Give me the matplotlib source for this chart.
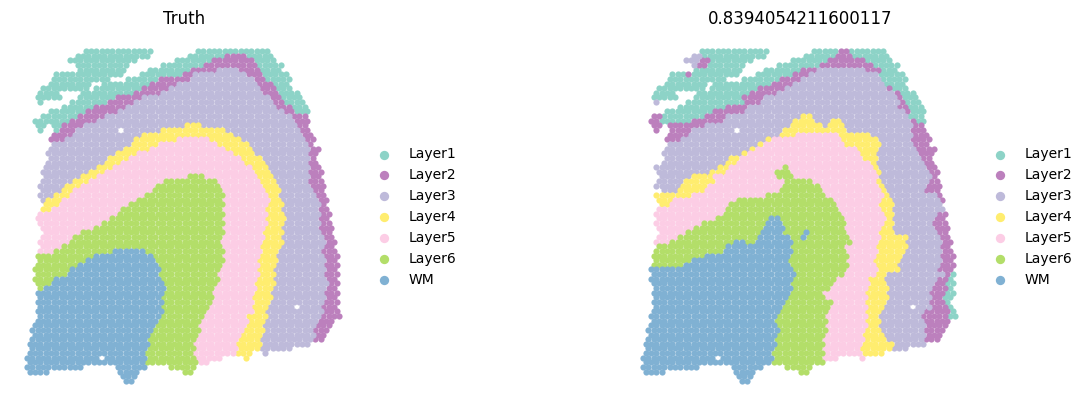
import matplotlib
matplotlib.use("Agg")
import matplotlib.pyplot as plt
import numpy as np

layers = ["Layer1", "Layer2", "Layer3", "Layer4", "Layer5", "Layer6", "WM"]
layer_colors = ["#8dd3c7", "#bc80bd", "#bebada", "#ffed6f", "#fccde5", "#b3de69", "#80b1d3"]

titles = ["Truth", "0.8394054211600117"]

# one string per array row, "layer:first_col-last_col", layer 7 is WM
truth_runs = [
    "1:22-46 1:64-91",
    "1:19-45 1:61-74 2:75-82 1:83-92",
    "1:16-40 1:56-69 2:70-84 1:85-93",
    "1:18-38 1:51-66 2:67-85 1:86-96",
    "1:19-37 1:45-60 2:61-71 3:72-78 2:79-86 1:87-95",
    "1:10-35 1:43-57 2:58-61 3:62-81 2:82-87 1:88-97",
    "1:10-31 1:37-49 2:50-60 3:61-85 2:86-88 1:89-98",
    "1:9-24 1:28-46 2:47-56 3:57-85 2:86-91 1:92-98",
    "1:6-22 1:26-42 2:43-53 3:54-87 2:88-92 1:93-99",
    "1:5-12 1:21-40 2:41-50 3:51-88 2:89-93 1:94-102",
    "1:4-12 1:20-33 2:34-43 3:44-91 2:92-95 1:96-103",
    "1:5-6 1:17-29 2:30-39 3:40-91 2:92-95 1:96-104",
    "1:14-25 2:26-36 3:37-93 2:94-98 1:99-105",
    "1:9-22 2:23-33 3:34-95 2:96-100 1:101-106",
    "1:6-19 2:20-29 3:30-98 2:99-105",
    "1:3-16 2:17-25 3:26-99 2:100-105",
    "1:4-6 1:9-13 2:14-21 3:22-58 4:59-65 3:66-100 2:101-105",
    "1:5 1:10-12 2:13-18 3:19-34 3:36-49 4:50-74 3:75-102 2:103-106",
    "2:9-17 3:18-42 4:43-76 3:77-102 2:103-107",
    "2:9-14 3:15-40 4:41-56 5:57-67 4:68-80 3:81-103 2:104-108",
    "3:9-38 4:39-49 5:50-71 4:72-82 3:83-104 2:105-107",
    "3:9-35 4:36-45 5:46-74 4:75-84 3:85-105 2:106-109",
    "3:8-32 4:33-41 5:42-77 4:78-85 3:86-105 2:106-109",
    "3:8-30 4:31-37 5:38-79 4:80-87 3:88-105 2:106-108",
    "3:7-28 4:29-35 5:36-81 4:82-88 3:89-105 2:106-109",
    "3:6-25 4:26-31 5:32-83 4:84-90 3:91-105 2:106-110",
    "3:6-23 4:24-29 5:30-85 4:86-91 3:92-105 2:106-110",
    "3:6-20 4:21-26 5:27-59 6:60-66 5:67-86 4:87-92 3:93-105 2:106-109",
    "3:5-17 4:18-23 5:24-50 6:51-70 5:71-87 4:88-93 3:94-105 2:106-110",
    "3:4-14 4:15-20 5:21-48 6:49-72 5:73-88 4:89-93 3:94-105 2:106-111",
    "3:5-12 4:13-17 5:18-46 6:47-73 5:74-88 4:89-94 3:95-107 2:108-111",
    "3:4-10 4:11-16 5:17-43 6:44-74 5:75-89 4:90-94 3:95-108 2:109-111",
    "3:6-7 4:8-13 5:14-40 6:41-73 5:74-90 4:91-95 3:96-108 2:109-112",
    "4:7-12 5:13-38 6:39-74 5:75-90 4:91-95 3:96-109 2:110-112",
    "4:6-9 5:10-35 6:36-73 5:74-89 4:90-95 3:96-109 2:110-112",
    "5:5-33 6:34-74 5:75-90 4:91-95 3:96-109 2:110-113",
    "5:4-30 6:31-73 5:74-89 4:90-96 3:97-109 2:110-113",
    "5:4-28 6:29-73 5:74-90 4:91-95 3:96-110 2:111-113",
    "5:5-24 6:25-73 5:74-89 4:90-95 3:96-109 2:110-114",
    "5:6-20 6:21-73 5:74-88 4:89-95 3:96-110 2:111-113",
    "5:5-17 6:18-72 5:73-88 4:89-94 3:95-110 2:111-115",
    "5:4-15 6:16-72 5:73-87 4:88-95 3:96-111 2:112-115",
    "5:5-13 6:14-72 5:73-87 4:88-94 3:95-111 2:112-115",
    "5:5-9 6:10-31 7:32-43 6:44-73 5:74-87 4:88-93 3:94-110 2:111-115",
    "6:4-24 7:25-46 6:47-72 5:73-87 4:88-93 3:94-111 2:112-116",
    "6:4-21 7:22-48 6:49-73 5:74-86 4:87-93 3:94-111 2:112-115",
    "6:4-19 7:20-49 6:50-72 5:73-86 4:87-92 3:93-111 2:112-117",
    "6:3-15 7:16-50 6:51-71 5:72-85 4:86-92 3:93-112 2:113-115",
    "6:4-14 7:15-49 6:50-71 5:72-86 4:87-92 3:93-111 2:112-116",
    "6:3-10 7:11-50 6:51-71 5:72-85 4:86-92 3:93-111 2:112-116",
    "6:3-9 7:10-51 6:52-70 5:71-85 4:86-92 3:93-112 2:113-116",
    "6:4-5 7:7-51 6:52-70 5:71-85 4:86-91 3:92-111 2:112-116",
    "7:3-50 6:51-69 5:70-85 4:86-91 3:92-111 2:112-116",
    "7:4-50 6:51-69 5:70-84 4:85-91 3:92-111 2:112-116",
    "7:3-50 6:51-68 5:69-84 4:85-91 3:92-110 2:111-116",
    "7:4-50 6:51-67 5:68-84 4:85-90 3:91-100 3:102-110 2:111-116",
    "7:4-50 6:51-66 5:67-84 4:85-89 3:90-110 2:111-116",
    "7:4-49 6:50-66 5:67-82 4:83-89 3:90-110 2:111-117",
    "7:3-49 6:50-65 5:66-82 4:83-89 3:90-108 2:109-115",
    "7:3-48 6:49-64 5:65-81 4:82-88 3:89-107 2:108-114",
    "7:2-47 6:48-64 5:65-80 4:81-88 3:89-107 2:108-113",
    "7:2-46 6:47-63 5:64-80 4:81-87 3:88-107 2:108-111",
    "7:1-45 6:46-63 5:64-79 4:80-87 3:88-106 2:107-110",
    "7:1-45 6:46-62 5:63-78 4:79-87 3:88-105",
    "7:2-45 6:46-62 5:63-78 4:79-87 3:88-99",
    "7:1-44 6:45-62 5:63-77 4:78-83 3:88-89",
    "7:0-27 7:29-44 6:45-63 5:64-72 4:82",
    "7:0-44 6:45-51 6:53-63 5:64-67",
    "7:0-20 7:33-44 6:54-62",
    "7:1-7 7:35-41 6:59-61",
    "7:36-40",
    "7:37-39",
]

pred_runs = [
    "1:22-46 1:64-72 2:73-77 1:78-91",
    "3:19-22 1:23-45 1:61-71 2:72-78 1:79-92",
    "3:16-20 2:21-24 1:25-40 1:56-69 2:70-83 1:84-93",
    "3:18-20 2:21-24 1:25-38 1:51-66 2:67-85 1:86-96",
    "2:19 1:20-37 1:45-59 2:60-65 3:66-83 2:84-89 1:90-95",
    "1:10-16 2:17 1:19-35 1:43-56 2:57-61 3:62-88 1:89-97",
    "1:10-31 1:37-51 2:52-59 3:60-89 1:90-98",
    "1:9-24 1:27-47 2:48-56 3:57-90 1:91-98",
    "1:6-22 1:26-43 2:44-53 3:54-91 2:92-93 1:94-99",
    "1:5-12 1:21-40 2:41-50 3:51-93 2:94-96 1:97-102",
    "1:4-12 1:20-37 2:38-45 3:46-94 2:95-97 1:98-103",
    "3:5-6 1:17-37 2:38-43 3:44-95 2:96-97 1:98-104",
    "1:14-30 2:31-39 3:40-95 2:96-98 1:99-105",
    "1:9-26 2:27-38 3:39-97 2:98-100 1:101-106",
    "2:4-7 1:8-23 2:24-31 3:32-58 4:59-62 3:63-98 2:99 1:100-105",
    "2:3-6 1:7-18 2:19-29 3:30-56 4:57-63 3:64-69 4:70-74 3:75-99 2:100-101 1:102-105",
    "2:4-6 2:9-22 3:23-55 4:56-67 3:68-68 4:69-75 3:76-100 2:101-105",
    "2:5 2:10-18 3:19-34 3:36-51 4:52-75 3:76-100 2:101-106",
    "2:9-17 3:18-50 4:51-56 5:57-72 4:73-84 3:85-100 2:101-107",
    "2:9-14 3:15-45 4:46-47 5:48-73 4:74-88 3:89-100 2:101-108",
    "3:9-42 4:43-44 5:45-75 4:76-88 3:89-101 2:102-107",
    "3:9-39 4:40-41 5:42-79 4:80-88 3:89-102 2:103-109",
    "3:8-36 4:37-38 5:39-81 4:82-87 3:88-103 2:104-109",
    "3:8-32 4:33-36 5:37-82 4:83-88 3:89-104 2:105-108",
    "3:7-30 4:31-35 5:36-84 4:85-87 3:88-104 2:105-108",
    "3:5-27 4:28-31 5:32-52 6:53 5:54-86 4:87-88 3:89-105 2:106-110",
    "3:6-25 4:26-30 5:31-49 6:50-55 5:56-86 4:87-88 3:89-107 2:108-110",
    "3:6-18 4:19-26 5:27-50 6:51-56 5:57-88 3:89-107 2:108-109",
    "3:5-15 4:16-27 5:28-52 6:53-63 5:64-86 4:87-88 3:89-106 2:107-110",
    "3:4-13 4:14-24 5:25-51 6:52-65 5:66-87 4:88-89 3:90-105 2:106-111",
    "3:7-13 4:14-22 5:23-51 6:52-66 5:67-88 4:89-90 3:91-105 2:106-111",
    "4:4-17 5:18-46 6:47-67 5:68-89 4:90-91 3:92-110 2:111",
    "4:6-11 5:12-34 6:35-71 5:72-89 4:90-92 3:93-111 2:112",
    "4:7-10 5:11-32 6:33-72 5:73-88 4:89-93 3:94-112",
    "5:6-31 6:32-73 5:74-88 4:89-93 3:94-112",
    "5:5-30 6:31-73 5:74-89 4:90-93 3:94-109 2:110-113",
    "5:5-27 6:28-47 7:48-51 6:52-74 5:75-90 4:91-93 3:94-108 2:109-113",
    "5:5-22 6:23-46 7:47-52 6:53-76 5:77-90 4:91-93 3:94-108 2:109-113",
    "5:6-19 6:20-45 7:46-52 6:53-75 5:76-89 4:90-92 3:93-108 2:109-114",
    "5:6-16 6:17-44 7:45-52 6:53-60 7:61 6:62-76 5:77-88 4:89-93 3:94-110 2:111-113",
    "5:5-13 6:14-42 7:43-55 6:56-59 7:60 6:61-76 5:77-88 4:89-99 3:100-110 2:111-115",
    "5:4-9 6:10-34 7:35-37 6:38-41 7:42-56 6:57-77 5:78-87 4:88-97 3:98-111 2:112-115",
    "6:5-30 7:31-54 6:55-75 5:76-87 4:88-99 3:100-111 2:112-115",
    "6:5-29 7:30-55 6:56-76 5:77-87 4:88-98 3:99-111 2:112-115",
    "6:4-23 7:24-54 6:55-77 5:78-86 4:87-97 3:98-111 2:112-116",
    "6:5-17 7:18-54 6:55-76 5:77-86 4:87-96 3:97-111 2:112-116",
    "6:4-15 7:16-55 6:56-76 5:77-87 4:88-94 3:95-111 2:112-117",
    "7:3-56 6:57-75 5:76-88 4:89-95 3:96-110 2:111-115",
    "7:4-56 6:57-75 5:76-87 4:88-90 3:91-112 2:113-114 1:115-116",
    "7:3-55 6:56-72 5:73-84 4:85-90 3:91-110 2:111-113 1:114-116",
    "7:3-55 6:56-70 5:71-84 4:85-90 3:91-109 2:110-113 1:114-117",
    "7:4-55 6:56-69 5:70-83 4:84-91 3:92-107 2:108-113 1:114-116",
    "7:3-54 6:55-67 5:68-83 4:84-90 3:91-107 2:108-112 1:113-116",
    "7:4-54 6:55-67 5:68-83 4:84-92 3:93-107 2:108-111 1:112-115",
    "7:3-52 6:53-70 5:71-83 4:84-90 3:91-106 2:107-113 1:114-115",
    "7:4-52 6:53-69 5:70-83 4:84-89 3:90-100 3:102-107 2:108-114 1:115-116",
    "7:4-51 6:52-68 5:69-83 4:84-89 3:90-105 2:106-115 1:116",
    "7:3-50 6:51-68 5:69-83 4:84-88 3:89-104 2:105-114 1:115-117",
    "7:3-49 6:50-69 5:70-83 4:84-88 3:89-104 2:105-115",
    "7:3-50 6:51-68 5:69-84 4:85-88 3:89-105 2:106-114",
    "7:2-50 6:51-69 5:70-83 4:84-88 3:89-104 2:105-113",
    "7:2-49 6:50-68 5:69-82 4:83-90 3:91-105 2:106-111",
    "7:1-49 6:50-67 5:68-83 4:84-91 3:92-105 2:106-110",
    "7:1-49 6:50-68 5:69-82 4:83-93 3:94-105",
    "7:2-49 6:50-67 5:68-81 4:82-92 3:93-99",
    "7:1-48 6:49-67 5:68-82 4:83-89",
    "7:0-27 7:29-49 6:50-67 5:68-72 5:82",
    "7:0-48 6:49-51 6:53-67",
    "7:0-20 7:33-44 6:54-62",
    "7:1-7 7:35-41 6:59-61",
    "7:36-40",
    "7:37-39",
]


def parse_runs(runs):
    rows, cols, labels = [], [], []
    for r, line in enumerate(runs):
        for run in line.split():
            lab, span = run.split(":")
            first, _, last = span.partition("-")
            last = last or first
            for c in range(int(first), int(last) + 1):
                # hex grid, only every other column exists on a row
                if (r + c) % 2 == 0:
                    rows.append(r)
                    cols.append(c)
                    labels.append(int(lab) - 1)
    return np.array(rows), np.array(cols), np.array(labels)


W, H = 1087, 411
fig = plt.figure(figsize=(W / 100, H / 100), dpi=100)

col_px = 2.67
row_px = 4.648

for i, runs in enumerate([truth_runs, pred_runs]):
    left = 12 + 616 * i
    right = left + 344
    top, bottom = 29, 405
    ax = fig.add_axes([left / W, 1 - bottom / H, (right - left) / W, (bottom - top) / H])
    rows, cols, labels = parse_runs(runs)
    for k, name in enumerate(layers):
        m = labels == k
        ax.scatter(cols[m], rows[m], s=20, c=layer_colors[k], linewidths=0, label=name)
    x0 = 27 + 616 * i
    ax.set_xlim((left - x0) / col_px, (right - x0) / col_px)
    ax.set_ylim((bottom - 51) / row_px, (top - 51) / row_px)
    ax.set_axis_off()
    ax.set_title(titles[i], fontsize=12, pad=3.8)
    ax.legend(loc="center left", bbox_to_anchor=(1, 0.5), frameon=False, fontsize=10,
              markerscale=1.5, borderaxespad=0.6)

fig.savefig("out.png", dpi=100)
